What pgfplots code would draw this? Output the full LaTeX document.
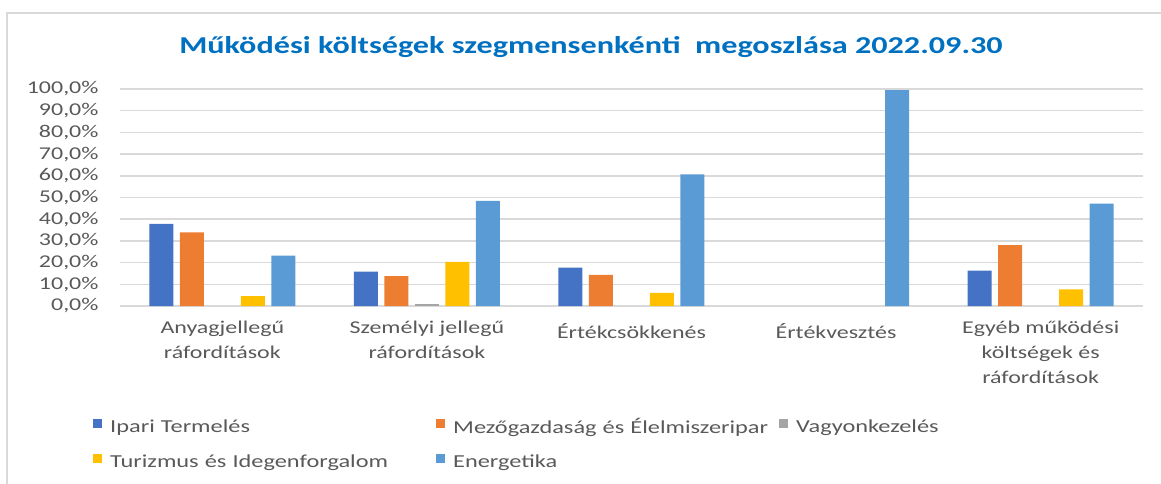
\documentclass[border=0pt]{standalone}
\usepackage{fontspec}
\setmainfont{Carlito}[FakeStretch=1.33]
\usepackage{pgfplots}
\pgfplotsset{compat=1.18}
\definecolor{c1}{HTML}{4472C4}
\definecolor{c2}{HTML}{ED7D31}
\definecolor{c3}{HTML}{A5A5A5}
\definecolor{c4}{HTML}{FFC000}
\definecolor{c5}{HTML}{5B9BD5}
\definecolor{txt}{HTML}{595959}
\definecolor{ttl}{HTML}{0070C0}
\definecolor{gridc}{HTML}{D9D9D9}
\begin{document}
\begin{tikzpicture}[x=1pt,y=1pt]
\useasboundingbox (0,0) rectangle (1161,-484);
\draw[color=gridc, line width=1.5pt] (7,-484) -- (7,-13) -- (1161,-13);
\node[font=\bfseries\fontsize{24.2}{30}\selectfont, text=ttl, anchor=base] at (591,-54) {Működési költségek szegmensenkénti\ \ megoszlása 2022.09.30};
\begin{axis}[
  at={(120pt,-306pt)}, anchor=south west,
  scale only axis, width=1023pt, height=217pt,
  xmin=-0.5, xmax=4.5, ymin=0, ymax=100,
  ybar=6.5pt, bar width=24pt,
  xtick={0,1,2,3,4},
  xticklabels={{Anyagjellegű\\ráfordítások},{Személyi jellegű\\ráfordítások},{Értékcsökkenés},{Értékvesztés},{Egyéb működési\\költségek és\\ráfordítások}},
  ytick={0,10,...,100},
  ymajorgrids, grid style={gridc, line width=1.5pt},
  axis line style={draw=none},
  major tick length=0pt,
  /pgf/number format/assume math mode=true,
  tick label style={font=\fontsize{18}{24}\selectfont, text=txt},
  xticklabel style={align=center, yshift=-11pt, font=\fontsize{18}{25}\selectfont, execute at begin node=\strut},
  yticklabel style={xshift=-18pt},
  yticklabel={\pgfmathprintnumber[fixed,fixed zerofill,precision=1,use comma,assume math mode=true]{\tick}\%},
  every axis plot post/.append style={draw=none, legend image code/.code={\fill[##1] (0pt,-1pt) rectangle (9pt,8pt);}},
  legend columns=3,
  legend style={at={(axis description cs:0,0)}, anchor=north west, xshift=-30pt, yshift=-108pt,
    draw=none, fill=none, font=\fontsize{18.3}{22}\selectfont, text=txt, row sep=16pt,
    /tikz/every odd column/.append style={column sep=6pt},
    nodes={text width=324pt, align=left, inner sep=2pt}},
  legend cell align=left,
]
\addplot[fill=c1] coordinates {(0,37.8) (1,15.8) (2,17.7) (4,16.3)};
\addplot[fill=c2] coordinates {(0,33.9) (1,13.8) (2,14.4) (4,28.1)};
\addplot[fill=c3] coordinates {(1,0.8)};
\addplot[fill=c4] coordinates {(0,4.6) (1,20.3) (2,6.1) (4,7.7)};
\addplot[fill=c5] coordinates {(0,23.2) (1,48.5) (2,60.7) (3,99.5) (4,47.2)};
\legend{Ipari Termelés, Mezőgazdaság és Élelmiszeripar, Vagyonkezelés, Turizmus és Idegenforgalom, Energetika}
\end{axis}
\end{tikzpicture}
\end{document}
